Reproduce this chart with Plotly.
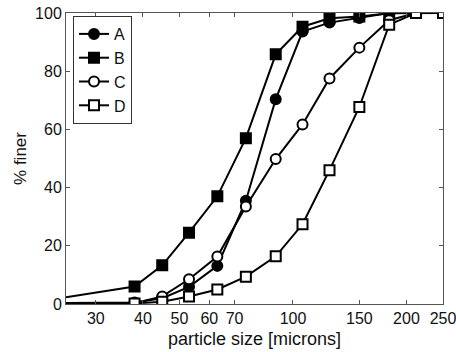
import plotly.graph_objects as go

sizes = [20, 38, 45, 53, 63, 75, 90, 106, 125, 150, 180, 212, 250]
A = [0.3, 0.5, 2.0, 5.9, 13.1, 35.5, 70.4, 93.6, 96.7, 98.3, 100, 100, 100]
B = [0.4, 6.0, 13.3, 24.5, 37.0, 57.0, 85.8, 95.3, 98.2, 98.8, 99.9, 100, 100]
C = [0.2, 0.3, 2.6, 8.5, 16.3, 33.5, 49.8, 61.7, 77.5, 88.1, 97.5, 100, 100]
D = [0.1, 0.2, 0.8, 2.6, 5.0, 9.4, 16.4, 27.4, 46.0, 67.7, 96.0, 100, 100]

series = [
    ("A", A, "circle", "black"),
    ("B", B, "square", "black"),
    ("C", C, "circle", "white"),
    ("D", D, "square", "white"),
]

xticks = [30, 40, 50, 60, 70, 100, 150, 200, 250]
yticks = [0, 20, 40, 60, 80, 100]

FONT = "Liberation Sans, Arial, Helvetica, sans-serif"
W, H = 456, 352

fig = go.Figure()
for name, vals, sym, fill in series:
    fig.add_trace(go.Scatter(
        x=sizes, y=vals, name=name, mode="lines+markers",
        line=dict(color="black", width=2),
        marker=dict(symbol=sym, size=10, color=fill,
                    line=dict(color="black", width=2)),
    ))

axis_common = dict(
    showline=True, linecolor="#555", linewidth=1, mirror="ticks",
    ticks="inside", ticklen=4, tickcolor="#555", tickwidth=1,
    showgrid=False, zeroline=False, ticklabeloverflow="allow",
    tickfont=dict(family=FONT, size=16, color="#111"),
)

fig.update_xaxes(
    type="log", range=[1.39794, 2.39794], domain=[66 / W, 443 / W],
    tickvals=xticks, ticktext=[str(v) for v in xticks],
    title=dict(text="particle size [microns]", standoff=6,
               font=dict(family=FONT, size=18, color="#111")),
    **axis_common,
)
fig.update_yaxes(
    range=[0, 100], tickvals=yticks, domain=[48 / H, 339 / H],
    title=dict(text="% finer", standoff=4,
               font=dict(family=FONT, size=17, color="#111")),
    **axis_common,
)

fig.update_layout(
    width=W, height=H,
    margin=dict(l=0, r=0, t=0, b=0, pad=0, autoexpand=False),
    paper_bgcolor="white", plot_bgcolor="white",
    showlegend=True,
    legend=dict(x=73 / W, y=1 - 16 / H, xanchor="left", yanchor="top",
                bgcolor="white", bordercolor="#333", borderwidth=1,
                font=dict(family=FONT, size=16, color="#111"),
                itemwidth=30, tracegroupgap=0),
    font=dict(family=FONT, color="#111"),
)

fig.write_html(
    "out.html",
    post_script="document.documentElement.style.overflow='hidden';"
                "document.body.style.overflow='hidden';",
)
